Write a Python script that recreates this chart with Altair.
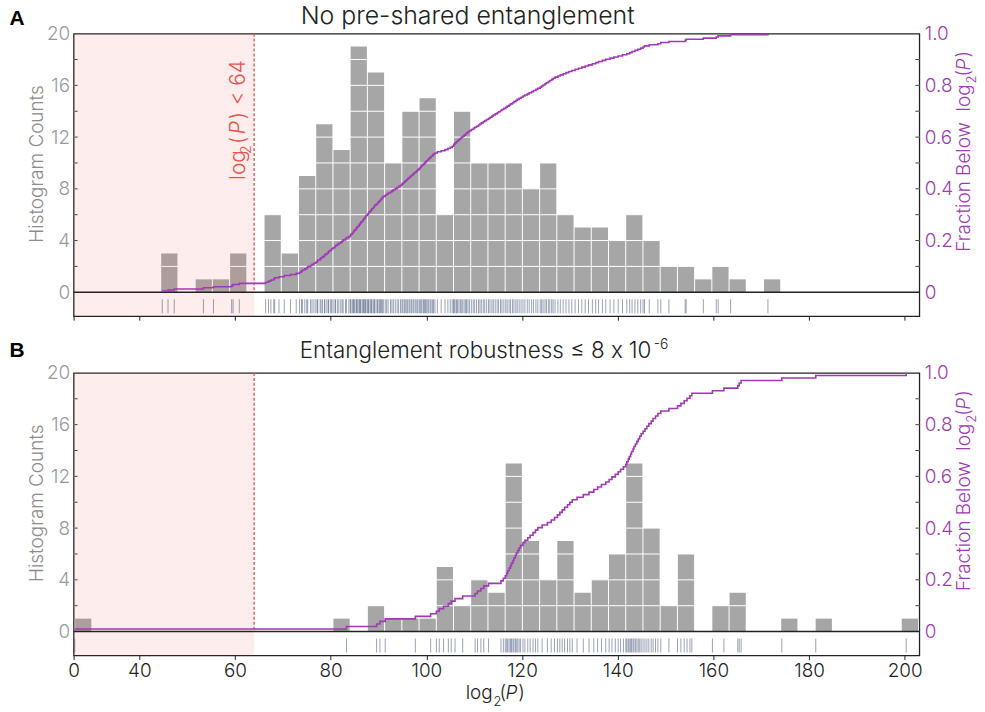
import altair as alt
import pandas as pd

# log2(P) for every run, no pre-shared entanglement
A_VALUES = [
    44.8, 46.0, 47.3,
    53.4,
    55.5,
    59.3, 59.6, 60.9,
    66.4, 67.0, 67.5, 68.1, 68.3, 69.2,
    70.3, 71.6, 72.8,
    73.5, 73.9, 74.1, 74.6, 75.0, 75.2, 75.8, 76.1, 76.5,
    76.9, 77.2, 77.3, 77.8, 78.0, 78.3, 78.7, 78.8, 79.2, 79.5, 79.6, 80.0, 80.2,
    80.5, 80.9, 81.0, 81.4, 81.7, 82.1, 82.4, 82.6, 83.1, 83.3, 83.8,
    84.1, 84.2, 84.5, 84.7, 84.8, 85.0, 85.3, 85.4, 85.6, 85.9, 86.0, 86.2, 86.3,
    86.6, 86.8, 86.9, 87.1, 87.3, 87.4,
    87.7, 87.9, 88.0, 88.3, 88.5, 88.6, 88.9, 89.1, 89.2, 89.5, 89.8, 89.9, 90.2,
    90.4, 90.6, 90.8, 91.0,
    91.4, 91.7, 92.0, 92.5, 92.8, 93.1, 93.5, 93.9, 94.2, 94.6,
    94.9, 95.1, 95.4, 95.6, 95.9, 96.1, 96.4, 96.6, 96.9, 97.2, 97.4, 97.7, 98.0, 98.2,
    98.5, 98.7, 98.9, 99.1, 99.4, 99.6, 99.8, 100.0, 100.3, 100.5, 100.8, 101.0,
    101.3, 101.5, 101.8,
    102.3, 103.1, 103.9, 104.5, 105.0, 105.4,
    105.7, 105.8, 106.0, 106.3, 106.5, 106.8, 107.1, 107.3, 107.6, 107.9, 108.2,
    108.4, 108.7, 109.0,
    109.4, 109.8, 110.1, 110.5, 110.9, 111.2, 111.5, 111.9, 112.2, 112.6,
    113.0, 113.3, 113.7, 114.0, 114.4, 114.8, 115.1, 115.5, 115.8, 116.2,
    116.6, 116.9, 117.3, 117.6, 118.0, 118.3, 118.7, 119.0, 119.4, 119.8,
    120.2, 120.6, 121.1, 121.5, 122.0, 122.4, 122.9, 123.3,
    123.8, 124.1, 124.4, 124.8, 125.1, 125.5, 125.8, 126.2, 126.5, 126.9,
    127.5, 128.0, 128.6, 129.2, 129.8, 130.4,
    131.1, 131.8, 132.5, 133.2, 133.9,
    134.7, 135.4, 136.0, 136.8, 137.5,
    138.4, 139.2, 140.1, 141.0,
    141.9, 142.5, 143.0, 143.6, 144.2, 144.8,
    145.3, 145.6, 146.6, 148.4,
    149.0, 150.7,
    154.1, 154.3,
    157.9,
    160.6, 161.0,
    163.6,
    171.4,
]

# log2(P) for every run, entanglement robustness <= 8e-6
B_VALUES = [
    26.5,
    83.3,
    89.6, 90.3,
    91.4,
    97.7,
    100.9,
    102.1, 102.7, 103.6, 104.6, 105.2,
    106.0, 107.6,
    110.2, 110.7, 111.4, 112.0,
    113.0, 115.6, 116.1,
    116.5, 116.8, 117.0, 117.3, 117.6, 117.8, 118.1, 118.3, 118.6, 118.8, 119.1,
    119.4, 119.7,
    120.2, 120.6, 121.2, 121.7, 122.3, 122.8, 123.3,
    124.2, 125.3, 126.1, 126.8,
    127.4, 127.9, 128.4, 128.9, 129.5, 130.0, 130.5,
    131.5, 132.8, 134.0,
    135.0, 135.8, 136.6, 137.5,
    138.2, 138.8, 139.5, 140.1, 140.6, 141.2,
    141.7, 141.9, 142.2, 142.4, 142.7, 142.9, 143.2, 143.4, 143.7, 144.0, 144.3,
    144.6, 144.9,
    145.3, 145.7, 146.1, 146.5, 147.0, 147.4, 147.9, 148.4,
    149.0, 150.7,
    152.5, 153.2, 153.9, 154.5, 155.1, 155.5,
    159.8, 162.2,
    165.1, 165.4, 165.8,
    174.3,
    181.4,
    200.3,
]

X_MIN, X_MAX = 26.27, 203.05
X_TICKS = [X_MIN, 40, 60, 80, 100, 120, 140, 160, 180, 200]
BIN_STEP = 3.6
BIN_EXTENT = [26.37, 206.37]
THRESHOLD = 64
COUNT_TICKS = [0, 4, 8, 12, 16, 20]
COUNT_GRID = [2, 4, 6, 8, 10, 12, 14, 16, 18]
FRACTION_TICKS = [0, 0.2, 0.4, 0.6, 0.8, 1.0]

W, H = 850, 284
Y_DOM = [-1.85, 20]
F_DOM = [-0.0925, 1.0]

FONT = "Inter"
LIGHT = 300
BAR = "#a6a6a6"
PURPLE = "#a03ab4"
RED = "#e8534a"
GREY_TXT = "#8c8c8c"
INK = "#222222"
GAP = "\u00a0\u00a0"

one = pd.DataFrame({"k": [0]})
grid_df = pd.DataFrame({"g": COUNT_GRID})


def txt(text, x, y, size=19, color=INK, angle=0, align="left", baseline="alphabetic",
        italic=False, weight=LIGHT, font=FONT):
    return alt.Chart(one).mark_text(
        text=text, fontSize=size, color=color, angle=angle, align=align,
        baseline=baseline, font=font, fontWeight=weight,
        fontStyle="italic" if italic else "normal",
    ).encode(x=alt.value(x), y=alt.value(y))


def right_title():
    xb = 901
    return [
        txt("Fraction Below" + GAP + "log", xb, 51, 19, PURPLE, angle=270, align="right"),
        txt("2", xb + 6, 50, 13, PURPLE, angle=270),
        txt("(", xb, 43, 19, PURPLE, angle=270),
        txt("P", xb, 37, 19, PURPLE, angle=270, italic=True),
        txt(")", xb, 24, 19, PURPLE, angle=270),
    ]


def panel(values, letter, letter_y, title_marks, extra_marks, show_labels):
    df = pd.DataFrame({"v": values})
    x_scale = alt.Scale(domain=[X_MIN, X_MAX], nice=False, zero=False)
    y_scale = alt.Scale(domain=Y_DOM, nice=False, zero=False)
    x_axis = alt.Axis(
        values=X_TICKS, labelExpr="datum.value < 30 ? '0' : datum.label",
        labels=show_labels, ticks=True, tickSize=4, tickColor=INK, tickWidth=1,
        domain=False, grid=False, title=None, labelFontSize=19, labelColor=INK,
        labelPadding=2, labelFont=FONT, labelFontWeight=LIGHT, labelFlush=False,
    )
    y_axis = alt.Axis(
        values=COUNT_TICKS, ticks=False, tickSize=0, domain=False, grid=False,
        title=None, labelFontSize=19, labelColor="#999999", labelPadding=4,
        labelFont=FONT, labelFontWeight=LIGHT,
    )
    f_axis = alt.Axis(
        orient="right", values=FRACTION_TICKS,
        labelExpr="datum.value == 0 ? '0' : format(datum.value, '.1f')",
        ticks=False, tickSize=0, domain=False, grid=False, title=None,
        labelFontSize=19, labelColor=PURPLE, labelPadding=5,
        labelFont=FONT, labelFontWeight=LIGHT,
    )

    bars = alt.Chart(df).mark_bar(color=BAR, binSpacing=1).encode(
        x=alt.X("v:Q", bin=alt.Bin(step=BIN_STEP, extent=BIN_EXTENT, nice=False),
                scale=x_scale, axis=x_axis),
        y=alt.Y("count():Q", scale=y_scale, axis=y_axis),
    )
    grid = alt.Chart(grid_df).mark_rule(color="white", strokeWidth=1).encode(
        y=alt.Y("g:Q"), x=alt.value(0), x2=alt.value(W)
    )
    shade = alt.Chart(one).mark_rect(color=RED, opacity=0.107).encode(
        x=alt.datum(X_MIN), x2=alt.datum(THRESHOLD), y=alt.value(0), y2=alt.value(H)
    )
    cut = alt.Chart(one).mark_rule(color=RED, strokeDash=[3, 2], strokeWidth=1.3).encode(
        x=alt.datum(THRESHOLD), y=alt.datum(20), y2=alt.datum(0)
    )
    rug = alt.Chart(df).mark_tick(color="#45557a", opacity=0.55, thickness=1, size=14).encode(
        x=alt.X("v:Q"), y=alt.value(274)
    )
    zero = alt.Chart(one).mark_rule(color=INK, strokeWidth=1.4).encode(
        y=alt.datum(0), x=alt.value(0), x2=alt.value(W)
    )
    ticks_l = alt.Chart(grid_df).mark_rule(color="#444444").encode(
        y=alt.Y("g:Q"), x=alt.value(0), x2=alt.value(4)
    )
    ticks_r = alt.Chart(grid_df).mark_rule(color="#444444").encode(
        y=alt.Y("g:Q"), x=alt.value(W - 4), x2=alt.value(W)
    )
    labels = [
        txt(letter, -57, letter_y, 21, "#000000", align="center",
            weight="bold", font="Liberation Sans"),
        txt("Histogram Counts", -37, 131, 19, GREY_TXT, angle=270,
            align="center", baseline="middle"),
    ] + title_marks + right_title() + extra_marks

    inner = alt.layer(bars, grid, shade, cut, zero, rug, ticks_l, ticks_r, *labels)

    cdf = alt.Chart(df).transform_window(
        frac="cume_dist()", sort=[alt.SortField("v", order="ascending")]
    ).mark_line(color=PURPLE, strokeWidth=1.6, interpolate="step-after").encode(
        x=alt.X("v:Q"),
        y=alt.Y("frac:Q", scale=alt.Scale(domain=F_DOM, nice=False, zero=False), axis=f_axis),
    )
    return alt.layer(inner, cdf).resolve_scale(y="independent").properties(width=W, height=H)


# red annotation along the cut-off line (reads bottom to top)
cut_note = [
    txt("log", 172, 147, 21, RED, angle=270),
    txt("2", 178, 121, 14, RED, angle=270),
    txt("(", 172, 111, 21, RED, angle=270),
    txt("P", 172, 101, 21, RED, angle=270, italic=True),
    txt(")", 172, 86, 21, RED, angle=270),
    txt("< 64", 172, 72, 21, RED, angle=270),
]

title_a = [txt("No pre-shared entanglement", 396, -10, 25, INK, align="center")]
# the "x" ends its own text run so it stays a letter x
title_b = [
    txt("Entanglement robustness \u2264 8 x", 552, -15, 22.5, INK, align="right"),
    txt("10", 558, -15, 22.5, INK),
    txt("-6", 583, -24, 14, INK),
]
x_title = [
    txt("log", 394, 328, 19),
    txt("2", 422, 335, 13),
    txt("(", 428, 328, 19),
    txt("P", 434, 328, 19, italic=True),
    txt(")", 447, 328, 19),
]

top = panel(A_VALUES, "A", -9, title_a, cut_note, False)
bottom = panel(B_VALUES, "B", -16, title_b, x_title, True)

chart = alt.vconcat(top, bottom, spacing=15).properties(
    padding={"left": 8, "top": 1, "right": 5, "bottom": 3}
).configure_view(stroke=INK, strokeWidth=1.3)

chart.save("out.html", embed_options={"renderer": "svg", "actions": False})
